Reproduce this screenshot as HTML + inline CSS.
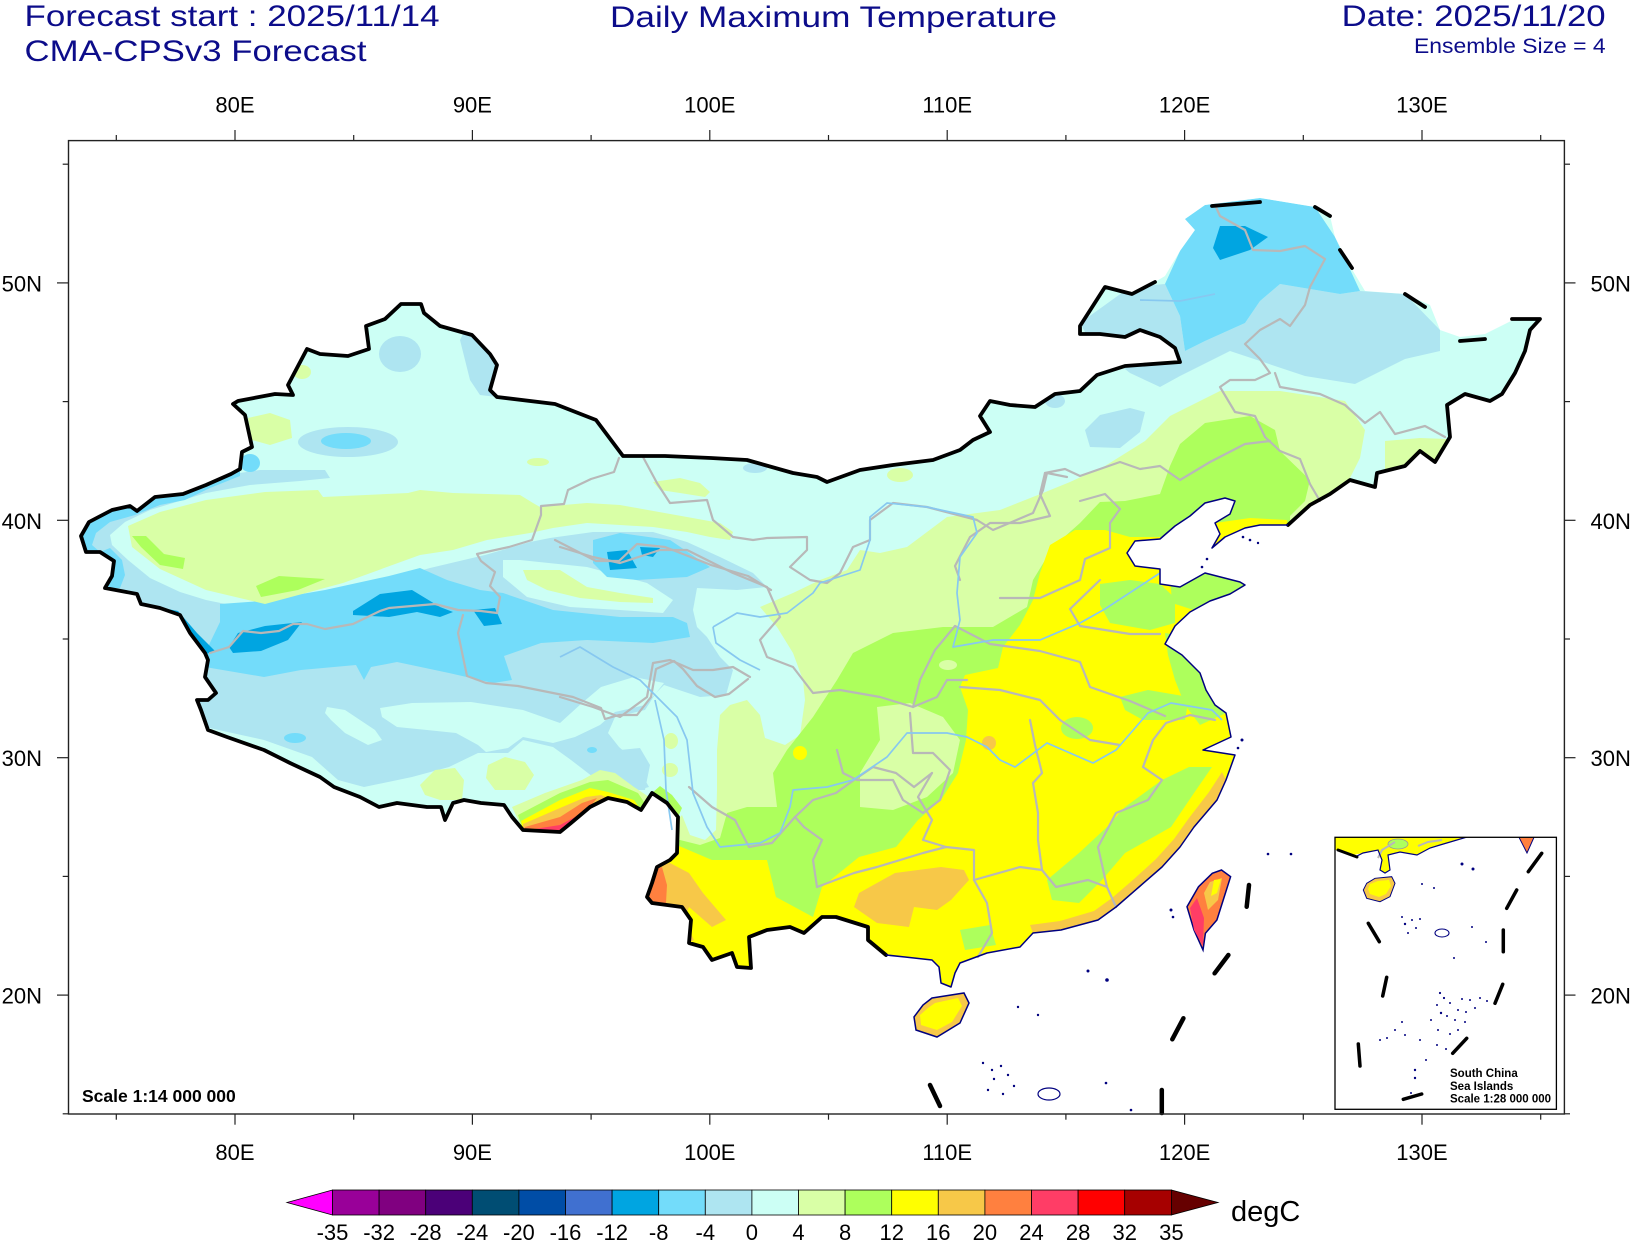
<!DOCTYPE html>
<html><head><meta charset="utf-8"><style>html,body{margin:0;padding:0;background:#fff}svg{display:block}</style></head>
<body>
<svg width="1632" height="1241" viewBox="0 0 1632 1241" xmlns="http://www.w3.org/2000/svg" font-family="'Liberation Sans', Arial, sans-serif">
<defs>
<clipPath id="land"><path d="M81,536 L89,522 112,510 130,506 137,511 155,497 183,494 206,485 231,474 240,469 242,452 252,447 245,415 233,404 238,401 275,394 293,395 288,385 307,349 320,354 348,356 369,349 366,326 385,319 401,304 421,304 424,313 440,326 472,335 490,354 497,365 490,390 497,397 555,404 596,420 623,456 665,456 711,458 747,460 793,473 817,477 827,482 860,470 893,465 933,460 960,450 973,440 990,432 980,416 990,401 1010,405 1035,407 1055,394 1080,391 1097,375 1125,366 1180,362 1175,348 1160,337 1140,330 1125,337 1100,334 1080,334 1080,326 1105,287 1132,294 1155,282 1165,276 1180,251 1195,230 1185,219 1205,205 1260,198 1315,207 1330,216 1335,237 1350,266 1365,291 1405,294 1430,305 1440,330 1460,337 1485,334 1515,319 1540,319 1530,330 1525,351 1515,373 1502,394 1490,401 1465,394 1447,405 1450,437 1435,462 1420,451 1405,466 1377,473 1375,487 1350,480 1330,494 1310,505 1288,525 1260,525 1245,528 1225,537 1212,548 1220,534 1215,523 1230,514 1235,501 1225,498 1205,503 1190,516 1175,526 1160,539 1135,541 1127,553 1135,566 1160,569 1160,584 1180,587 1205,573 1240,582 1245,585 1230,594 1210,601 1190,612 1175,626 1165,644 1182,655 1200,673 1206,690 1215,705 1226,713 1231,737 1203,750 1235,755 1226,780 1217,800 1194,827 1180,847 1162,867 1139,887 1116,907 1098,920 1061,930 1033,933 1020,947 987,953 960,963 955,973 951,987 941,983 939,967 932,960 905,957 886,955 868,940 868,927 836,917 822,917 804,933 790,927 767,930 749,937 751,968 737,967 732,953 712,960 703,947 689,943 691,920 682,907 652,903 647,897 652,883 657,867 670,860 677,853 678,817 667,803 652,793 641,810 627,802 608,798 590,807 571,823 560,832 523,830 512,817 504,805 481,803 464,800 453,803 445,820 441,807 427,807 397,803 379,807 360,797 334,787 320,777 290,763 264,750 227,737 208,730 201,710 197,700 208,700 216,693 205,677 208,660 205,653 190,633 180,615 160,608 141,604 137,594 105,588 112,576 114,561 100,552 86,552 Z"/></clipPath>
<clipPath id="ins"><rect x="1335" y="837.3" width="221.4" height="272"/></clipPath>
</defs>

<!-- Titles -->
<g fill="#0c0c8a">
<text x="24.5" y="26" font-size="30" textLength="415" lengthAdjust="spacingAndGlyphs">Forecast start : 2025/11/14</text>
<text x="24.5" y="61" font-size="30" textLength="342" lengthAdjust="spacingAndGlyphs">CMA-CPSv3 Forecast</text>
<text x="610" y="27" font-size="30" textLength="447" lengthAdjust="spacingAndGlyphs">Daily Maximum Temperature</text>
<text x="1341.6" y="26" font-size="30" textLength="264" lengthAdjust="spacingAndGlyphs">Date: 2025/11/20</text>
<text x="1414" y="53" font-size="21" textLength="191.6" lengthAdjust="spacingAndGlyphs">Ensemble Size = 4</text>
</g>

<!-- Map fill -->
<g clip-path="url(#land)">
<rect x="60" y="140" width="1510" height="980" fill="#ccfff5"/>
<!-- west cold: big light blue -->
<polygon fill="#aee5f1" points="82,530 100,515 130,503 160,495 206,478 260,470 325,470 330,478 300,481 250,485 206,493 150,510 125,522 110,535 112,545 128,560 150,578 180,592 206,600 265,612 345,592 430,568 485,555 530,542 550,538 593,532 653,532 687,542 720,557 753,573 767,587 737,590 697,588 693,610 697,627 707,637 720,657 733,670 726,695 700,697 664,685 656,693 645,710 615,717 608,733 619,747 634,760 649,787 627,793 597,780 571,760 553,747 523,740 508,753 478,753 449,767 412,777 364,787 338,780 312,757 264,740 205,727 201,710 197,700 208,700 216,693 205,677 208,660 205,653 190,633 180,615 160,608 141,604 137,594 105,588 112,576 114,561 100,552 86,552"/>
<polygon fill="#aee5f1" points="620,750 640,748 650,765 645,790 625,790 618,770"/>
<!-- west edge sky band -->
<polygon fill="#73dcfa" points="81,536 89,522 112,510 130,506 137,511 155,497 183,494 206,485 231,474 240,469 240,476 210,488 185,500 160,505 135,515 110,522 96,533 92,545 100,552 86,552"/>
<polygon fill="#73dcfa" points="100,552 114,561 112,576 105,588 120,588 125,575 122,560 110,548"/>
<!-- Tibet pale patches -->
<polygon fill="#ccfff5" points="327,707 345,710 375,730 382,740 368,745 345,733 331,720 325,713"/>
<polygon fill="#ccfff5" points="380,708 412,703 471,702 523,710 560,723 582,703 601,687 634,677 664,683 656,693 645,705 615,712 600,725 575,737 553,743 523,737 508,748 486,752 478,745 456,733 427,730 397,727 382,717"/>
<ellipse cx="295" cy="738" rx="11" ry="5" fill="#73dcfa"/>
<ellipse cx="592" cy="750" rx="5" ry="3" fill="#73dcfa"/>
<polygon fill="#d9ffa6" points="420,785 435,770 455,768 464,780 462,800 440,800 425,795"/>
<polygon fill="#d9ffa6" points="488,765 505,757 525,762 534,775 525,790 495,790 486,778"/>
<ellipse cx="671" cy="741" rx="7" ry="8" fill="#d9ffa6"/>
<ellipse cx="670" cy="770" rx="8" ry="7" fill="#d9ffa6"/>
<!-- Qaidam -->
<polygon fill="#ccfff5" points="503,560 520,560 587,567 647,583 673,600 663,613 620,610 570,607 527,597 503,577"/>
<polygon fill="#d9ffa6" points="523,570 560,570 587,587 620,593 653,598 653,603 620,602 580,598 547,590 527,580"/>
<!-- Kunlun sky blue -->
<polygon fill="#73dcfa" points="206,651 220,622 220,604 261,601 325,590 389,576 420,568 447,580 480,590 503,593 553,610 620,617 673,617 687,623 690,637 653,643 587,640 541,643 504,656 512,680 493,683 449,673 397,662 371,667 364,680 356,665 301,670 264,677 205,667"/>
<polygon fill="#00a5e1" points="353,611 380,594 412,590 440,607 453,612 440,617 417,612 389,617 353,615"/>
<polygon fill="#00a5e1" points="229,647 238,633 265,626 302,622 288,640 261,651 233,653"/>
<polygon fill="#00a5e1" points="473,610 495,608 502,624 484,626"/>
<polygon fill="#00a5e1" points="141,604 178,611 197,633 215,651 206,654 187,640 160,624 141,611"/>
<polygon fill="#4070d0" points="141,605 174,611 185,626 178,628 155,620 141,613"/>
<!-- Qilian -->
<polygon fill="#73dcfa" points="593,540 620,533 670,540 710,567 687,577 637,580 607,577 593,563"/>
<polygon fill="#00a5e1" points="607,552 627,550 637,568 610,570"/>
<polygon fill="#00a5e1" points="640,547 660,548 653,557 642,555"/>
<!-- Tarim -->
<polygon fill="#d9ffa6" points="128,526 160,512 206,500 265,492 318,490 323,497 408,493 420,490 453,493 520,495 533,503 540,507 587,503 620,505 687,517 720,523 733,532 730,540 710,537 687,532 653,527 620,525 587,523 553,528 530,533 487,540 453,550 420,555 343,583 265,604 206,590 160,569 132,547"/>
<polygon fill="#d9ffa6" points="653,482 680,478 700,483 710,492 705,497 680,493 660,490"/>
<polygon fill="#adff5c" points="132,536 146,536 164,554 185,558 183,569 160,565 141,547"/>
<polygon fill="#adff5c" points="256,586 279,576 325,579 298,590 261,597"/>
<!-- north Xinjiang -->
<ellipse cx="400" cy="354" rx="21" ry="18" fill="#aee5f1"/>
<polygon fill="#aee5f1" points="465,330 475,338 490,354 497,365 490,390 497,397 480,395 470,380 465,360 460,340"/>
<ellipse cx="348" cy="442" rx="50" ry="15" fill="#aee5f1"/>
<ellipse cx="346" cy="441" rx="25" ry="8" fill="#73dcfa"/>
<polygon fill="#d9ffa6" points="248,418 270,413 290,420 292,438 270,445 252,440"/>
<ellipse cx="302" cy="372" rx="9" ry="7" fill="#d9ffa6"/>
<ellipse cx="250" cy="463" rx="10" ry="9" fill="#73dcfa"/>
<ellipse cx="538" cy="462" rx="11" ry="4" fill="#d9ffa6"/>
<ellipse cx="755" cy="468" rx="12" ry="5" fill="#aee5f1"/>
<ellipse cx="900" cy="475" rx="13" ry="7" fill="#d9ffa6"/>
<polygon fill="#aee5f1" points="1085,430 1100,415 1130,408 1145,412 1140,432 1120,448 1090,447"/>
<ellipse cx="1055" cy="401" rx="10" ry="7" fill="#aee5f1"/>
<!-- warm zones -->
<polygon fill="#d9ffa6" points="1330,494 1350,478 1360,458 1365,430 1345,401 1280,391 1220,391 1170,416 1145,441 1105,466 1070,482 1043,493 1000,510 947,517 907,547 880,553 860,550 847,570 820,580 793,593 760,607 777,627 793,653 803,680 805,700 800,735 785,745 765,738 760,715 747,700 730,705 720,715 717,750 717,790 716,830 705,840 690,835 682,815 660,840 640,850 640,1000 1600,1000 1600,494"/>
<polygon fill="#d9ffa6" points="1385,441 1420,438 1447,439 1450,462 1435,462 1420,451 1405,466 1385,470"/>
<polygon fill="#adff5c" points="1160,494 1170,466 1180,444 1205,423 1250,416 1275,430 1280,451 1310,480 1305,501 1290,516 1290,540 1600,540 1600,1000 640,1000 640,850 680,840 700,845 720,838 727,813 747,807 777,807 773,773 787,750 813,717 837,680 853,653 893,633 943,627 993,627 1027,607 1033,580 1053,547 1080,523 1100,502 1125,501"/>
<polygon fill="#adff5c" points="652,793 660,786 672,795 682,808 678,817 667,803"/>
<polygon fill="#d9ffa6" points="877,707 910,703 943,717 960,740 953,773 927,797 893,810 860,807 860,773 880,740"/>
<ellipse cx="948" cy="665" rx="9" ry="5" fill="#d9ffa6"/>
<polygon fill="#ffff00" points="1130,537 1105,530 1075,530 1050,545 1040,573 1033,600 1020,625 1003,647 998,668 965,675 960,687 968,710 966,740 958,773 941,800 918,820 896,847 859,857 822,887 813,917 776,897 767,860 712,860 672,843 640,850 640,1000 1600,1000 1600,537"/>
<ellipse cx="800" cy="753" rx="7" ry="7" fill="#ffff00"/>
<polygon fill="#ffff00" points="1215,523 1250,518 1287,520 1288,526 1260,526 1245,529 1225,538 1213,548 1211,538"/>
<polygon fill="#adff5c" points="1100,584 1130,580 1160,584 1175,598 1175,623 1150,630 1110,623 1100,605"/>
<polygon fill="#adff5c" points="1170,575 1200,571 1245,578 1250,595 1200,612 1172,603"/>
<polygon fill="#adff5c" points="1165,633 1185,636 1205,650 1215,680 1226,713 1200,725 1185,705 1175,680 1168,655"/>
<polygon fill="#adff5c" points="1120,697 1148,690 1189,697 1185,720 1143,720 1125,710"/>
<polygon fill="#adff5c" points="1212,767 1194,793 1171,827 1125,853 1102,880 1079,903 1052,900 1047,880 1079,853 1107,827 1125,807 1162,780 1189,767"/>
<ellipse cx="1077" cy="728" rx="16" ry="11" fill="#adff5c"/>
<polygon fill="#adff5c" points="960,930 990,925 996,945 965,950"/>
<!-- orange -->
<polygon fill="#f7c848" points="859,893 895,873 941,867 964,870 969,880 951,900 937,910 914,907 909,927 877,923 854,907"/>
<polygon fill="#f7c848" points="654,867 670,863 689,873 703,893 726,920 712,927 689,907 684,920 694,940 689,943 680,920 666,903 652,903 650,883"/>
<polygon fill="#ff803f" points="652,870 662,867 667,885 666,903 652,903 648,895 652,883"/>
<polygon fill="#f7c848" points="1226,780 1217,800 1194,827 1180,847 1162,867 1139,887 1116,907 1098,920 1061,930 1033,933 1030,925 1060,921 1094,911 1112,898 1134,879 1156,859 1174,839 1189,818 1209,792 1222,772"/>
<ellipse cx="989" cy="743" rx="7" ry="7" fill="#f7c848"/>
<!-- Himalaya warm strip -->
<polygon fill="#d9ffa6" points="512,807 545,793 582,780 600,770 615,773 634,787 649,797 652,793 641,810 627,802 608,798 590,807 571,823 560,832 523,830"/>
<polygon fill="#adff5c" points="518,815 560,793 590,782 608,780 638,793 646,805 641,810 627,802 608,798 590,807 571,823 560,832 523,830"/>
<polygon fill="#ffff00" points="521,821 560,800 590,788 608,792 634,800 641,810 627,802 608,798 590,807 571,823 560,832 523,830"/>
<polygon fill="#f7c848" points="523,824 560,808 586,797 601,795 608,798 590,807 571,823 560,832 523,830"/>
<polygon fill="#ff803f" points="525,827 560,817 582,803 597,798 590,807 571,823 560,832 523,830"/>
<polygon fill="#ff3d66" points="528,830 560,825 575,817 590,807 571,823 560,832"/>
<!-- NE cold -->
<polygon fill="#aee5f1" points="1080,323 1130,287 1165,284 1180,316 1185,351 1205,341 1245,323 1260,301 1280,284 1340,294 1360,291 1405,294 1440,330 1440,351 1405,359 1355,384 1305,376 1230,351 1180,376 1160,387 1130,373 1090,341"/>
<polygon fill="#73dcfa" points="1185,219 1205,205 1260,198 1315,207 1335,237 1360,291 1340,294 1280,284 1260,301 1245,323 1205,341 1185,351 1180,316 1165,284 1180,251"/>
<polygon fill="#00a5e1" points="1220,226 1245,226 1268,237 1250,250 1220,260 1213,248"/>
</g>

<!-- province lines -->
<g fill="none" stroke="#b8b8b8" stroke-width="2.2" stroke-linejoin="round" stroke-linecap="round">
<polyline points="210,653 229,647 243,631 261,633 279,631 293,624 307,624 325,629 353,624 380,611 389,608 435,604 458,610 481,611 497,613"/>
<polyline points="497,613 500,597 490,586 495,572 481,561 477,554 509,547 532,540 541,515 541,506 564,504 568,490 591,479 614,472 619,458"/>
<polyline points="463,615 458,633 467,676 486,683 518,686 573,697 601,708 605,719 619,715 637,715 651,697 656,669 674,661 683,669 697,686 715,697 729,694 748,679"/>
<polyline points="555,540 596,561 619,561 637,544 665,547 711,565 748,576 771,590"/>
<polyline points="643,457 657,483 670,503 707,500 713,520 733,537 753,540 767,538 807,537 807,550 790,567 810,580 827,583 840,573 853,547 870,540 870,520 893,503 927,507 977,520 993,530 1033,513 1043,490 1047,473 1067,477"/>
<polyline points="560,547 593,557 620,563 660,550 687,550 733,573 767,587 780,617 760,640 767,657 793,667 813,693 840,690 880,697 913,707 937,697 947,680 967,680"/>
<polyline points="560,697 593,707 620,717 647,697 653,663 670,660 693,670 713,670 733,667 750,677"/>
<polyline points="837,750 843,773 857,780 893,780 903,800 923,813 940,800 950,770 933,753 913,753 910,713"/>
<polyline points="974,880 987,903 992,933 978,957"/>
<polyline points="817,887 854,873 877,867 923,853 946,847 974,850 974,880"/>
<polyline points="974,880 1020,867 1042,870 1056,887 1088,880 1107,887 1116,907"/>
<polyline points="1042,870 1038,840 1038,813 1033,783 1042,773 1035,745 1030,720"/>
<polyline points="1107,887 1098,847 1116,813 1148,800 1162,780 1143,767 1153,740 1166,723 1190,715 1215,720"/>
<polyline points="932,773 918,797 932,820 923,840 946,847"/>
<polyline points="817,887 813,860 822,840 804,827 795,817 813,800 836,793 854,780 873,767 896,773 914,787 932,773"/>
<polyline points="689,787 712,807 735,820 749,847 772,843 795,817"/>
<polyline points="1215,205 1220,216 1245,230 1253,250 1280,251 1305,246 1325,259 1310,287 1305,305 1290,326 1280,319 1260,330 1245,344 1260,359 1270,373 1255,380 1230,380 1220,387 1235,412 1255,416 1265,437 1280,451 1300,459 1310,484 1320,501"/>
<polyline points="1275,373 1280,387 1320,394 1345,405 1365,423 1380,412 1395,434 1425,426 1445,437"/>
<polyline points="1045,473 1065,469 1080,476 1120,462 1140,469 1160,466 1180,480 1210,462 1245,444 1270,441"/>
<polyline points="1045,473 1040,494 1050,516 1020,523 990,523 970,537 955,566 960,580"/>
<polyline points="1080,501 1105,494 1120,509 1110,523 1110,548 1085,559 1080,580 1040,598 1000,598"/>
<polyline points="1100,580 1070,609 1080,626 1130,634 1160,634"/>
<polyline points="955,626 990,644 1040,651 1080,662 1090,687 1130,701 1165,716"/>
<polyline points="960,687 1000,690 1040,700 1060,720 1090,740 1120,745"/>
<polyline points="913,707 920,680 935,650 955,626"/>
</g>
<!-- rivers -->
<g fill="none" stroke="#87c8f0" stroke-width="1.7" stroke-linejoin="round">
<polyline points="713,627 737,613 760,617 787,613 813,593 820,583 860,570 870,540 870,517 887,503 927,507 973,517 977,533 960,557 957,593 960,620 953,647 993,640 1040,640 1080,623 1105,609 1160,573"/>
<polyline points="713,627 716,643 740,660 760,670"/>
<polyline points="560,657 580,647 613,667 640,680 660,700 677,717 687,740 693,793 707,827 720,847 760,843 780,833 790,807 793,790 827,787 853,780 887,757 907,733 947,733 967,737 987,747 1000,760 1015,767 1047,743 1093,763 1116,750 1148,713 1171,703 1212,710 1222,720"/>
<polyline points="1140,300 1180,301 1215,294"/>
<polyline points="655,700 664,740 666,790 672,830"/>
</g>

<!-- borders -->
<path fill="none" stroke="#000" stroke-width="3.8" stroke-linejoin="round" stroke-linecap="round" d="M886,955 L868,940 868,927 836,917 822,917 804,933 790,927 767,930 749,937 751,968 737,967 732,953 712,960 703,947 689,943 691,920 682,907 652,903 647,897 652,883 657,867 670,860 677,853 678,817 667,803 652,793 641,810 627,802 608,798 590,807 571,823 560,832 523,830 512,817 504,805 481,803 464,800 453,803 445,820 441,807 427,807 397,803 379,807 360,797 334,787 320,777 290,763 264,750 227,737 208,730 201,710 197,700 208,700 216,693 205,677 208,660 205,653 190,633 180,615 160,608 141,604 137,594 105,588 112,576 114,561 100,552 86,552 81,536 89,522 112,510 130,506 137,511 155,497 183,494 206,485 231,474 240,469 242,452 252,447 245,415 233,404 238,401 275,394 293,395 288,385 307,349 320,354 348,356 369,349 366,326 385,319 401,304 421,304 424,313 440,326 472,335 490,354 497,365 490,390 497,397 555,404 596,420 623,456 665,456 711,458 747,460 793,473 817,477 827,482 860,470 893,465 933,460 960,450 973,440 990,432 980,416 990,401 1010,405 1035,407 1055,394 1080,391 1097,375 1125,366 1180,362 1175,348 1160,337 1140,330 1125,337 1100,334 1080,334 1080,326 1105,287 1132,294 1155,282"/>
<path fill="none" stroke="#000" stroke-width="3.8" stroke-linejoin="round" stroke-linecap="round" d="M1512,319 L1540,319 1530,330 1525,351 1515,373 1502,394 1490,401 1465,394 1447,405 1450,437 1435,462 1420,451 1405,466 1377,473 1375,487 1350,480 1330,494 1310,505 1288,525"/>
<g stroke="#000" stroke-width="3.8" stroke-linecap="round">
<line x1="1212" y1="206" x2="1260" y2="202"/>
<line x1="1315" y1="207" x2="1330" y2="216"/>
<line x1="1340" y1="250" x2="1352" y2="268"/>
<line x1="1405" y1="294" x2="1425" y2="307"/>
<line x1="1460" y1="341" x2="1485" y2="339"/>
</g>
<path fill="none" stroke="#00007f" stroke-width="1.5" stroke-linejoin="round" d="M1288,525 L1260,525 1245,528 1225,537 1212,548 1220,534 1215,523 1230,514 1235,501 1225,498 1205,503 1190,516 1175,526 1160,539 1135,541 1127,553 1135,566 1160,569 1160,584 1180,587 1205,573 1240,582 1245,585 1230,594 1210,601 1190,612 1175,626 1165,644 1182,655 1200,673 1206,690 1215,705 1226,713 1231,737 1203,750 1235,755 1226,780 1217,800 1194,827 1180,847 1162,867 1139,887 1116,907 1098,920 1061,930 1033,933 1020,947 987,953 960,963 955,973 951,987 941,983 939,967 932,960 905,957 886,955"/>

<!-- Hainan -->
<polygon points="932,998 964,993 969,1003 960,1023 937,1037 916,1030 914,1017 923,1005" fill="#f7c848" stroke="#00007f" stroke-width="1.5"/>
<polygon points="935,1003 958,998 962,1006 952,1022 937,1030 921,1025 920,1015 928,1008" fill="#ffff00"/>
<!-- Taiwan -->
<polygon points="1221.5,870 1230.6,876.7 1216.9,920 1205.4,933.3 1203,950 1194,930 1187,906.7 1198.5,886.7 1212.3,873.3" fill="#ff803f" stroke="#00007f" stroke-width="1.5"/>
<polygon points="1194,930 1190,908 1197,898 1204,918 1203,946" fill="#ff3d66"/>
<polygon points="1210,882 1222,878 1218,900 1208,910 1204,893" fill="#f7c848"/>
<polygon points="1214,880 1221,879 1217,893 1211,896" fill="#ffff00"/>

<!-- nine-dash line main -->
<g stroke="#000" stroke-width="4.5" stroke-linecap="round">
<line x1="1249" y1="885" x2="1246.7" y2="906.7"/>
<line x1="1228.4" y1="955" x2="1214.6" y2="973.3"/>
<line x1="1183.4" y1="1018.3" x2="1172.3" y2="1039.3"/>
<line x1="1161.8" y1="1090" x2="1161.8" y2="1113"/>
<line x1="930" y1="1085" x2="940" y2="1106"/>
</g>
<!-- islands -->
<g fill="#00007f">
<circle cx="1268" cy="854" r="1.3"/><circle cx="1291" cy="854" r="1.3"/>
<circle cx="1171" cy="910" r="1.5"/><circle cx="1173" cy="917" r="1.3"/>
<circle cx="1088" cy="971" r="1.5"/><circle cx="1107" cy="980" r="1.8"/>
<circle cx="1018" cy="1007" r="1.2"/><circle cx="1038" cy="1015" r="1.2"/>
<circle cx="1106" cy="1083" r="1.3"/><circle cx="1131" cy="1110" r="1.3"/>
<circle cx="1242" cy="740" r="1.5"/><circle cx="1238" cy="748" r="1.3"/>
<circle cx="1202" cy="567" r="1.3"/><circle cx="1207" cy="559" r="1.3"/>
<circle cx="1243" cy="537" r="1.3"/><circle cx="1250" cy="540" r="1.3"/><circle cx="1258" cy="543" r="1.2"/>
<circle cx="983" cy="1063" r="1.2"/><circle cx="992" cy="1070" r="1.2"/><circle cx="1001" cy="1066" r="1.2"/><circle cx="994" cy="1079" r="1.2"/><circle cx="1008" cy="1075" r="1.2"/><circle cx="988" cy="1090" r="1.2"/><circle cx="1003" cy="1094" r="1.2"/><circle cx="1014" cy="1086" r="1.2"/>
</g>
<ellipse cx="1049" cy="1094" rx="11" ry="6" fill="none" stroke="#00007f" stroke-width="1.2"/>

<!-- frame -->
<rect x="68.5" y="140.6" width="1495.9" height="973.4" fill="none" stroke="#222" stroke-width="1.4"/>
<!-- ticks -->
<g stroke="#222" stroke-width="1.2">
<line x1="235" y1="130" x2="235" y2="140.6"/><line x1="472.4" y1="130" x2="472.4" y2="140.6"/><line x1="709.8" y1="130" x2="709.8" y2="140.6"/><line x1="947.2" y1="130" x2="947.2" y2="140.6"/><line x1="1184.6" y1="130" x2="1184.6" y2="140.6"/><line x1="1422" y1="130" x2="1422" y2="140.6"/>
<line x1="116.3" y1="135" x2="116.3" y2="140.6"/><line x1="353.7" y1="135" x2="353.7" y2="140.6"/><line x1="591.1" y1="135" x2="591.1" y2="140.6"/><line x1="828.5" y1="135" x2="828.5" y2="140.6"/><line x1="1065.9" y1="135" x2="1065.9" y2="140.6"/><line x1="1303.3" y1="135" x2="1303.3" y2="140.6"/><line x1="1540.7" y1="135" x2="1540.7" y2="140.6"/>
<line x1="235" y1="1114" x2="235" y2="1124.7"/><line x1="472.4" y1="1114" x2="472.4" y2="1124.7"/><line x1="709.8" y1="1114" x2="709.8" y2="1124.7"/><line x1="947.2" y1="1114" x2="947.2" y2="1124.7"/><line x1="1184.6" y1="1114" x2="1184.6" y2="1124.7"/><line x1="1422" y1="1114" x2="1422" y2="1124.7"/>
<line x1="116.3" y1="1114" x2="116.3" y2="1119.7"/><line x1="353.7" y1="1114" x2="353.7" y2="1119.7"/><line x1="591.1" y1="1114" x2="591.1" y2="1119.7"/><line x1="828.5" y1="1114" x2="828.5" y2="1119.7"/><line x1="1065.9" y1="1114" x2="1065.9" y2="1119.7"/><line x1="1303.3" y1="1114" x2="1303.3" y2="1119.7"/><line x1="1540.7" y1="1114" x2="1540.7" y2="1119.7"/>
<line x1="57" y1="282.9" x2="68.5" y2="282.9"/><line x1="57" y1="520.3" x2="68.5" y2="520.3"/><line x1="57" y1="757.7" x2="68.5" y2="757.7"/><line x1="57" y1="995.1" x2="68.5" y2="995.1"/>
<line x1="62.7" y1="164.2" x2="68.5" y2="164.2"/><line x1="62.7" y1="401.6" x2="68.5" y2="401.6"/><line x1="62.7" y1="639" x2="68.5" y2="639"/><line x1="62.7" y1="876.4" x2="68.5" y2="876.4"/><line x1="62.7" y1="1113.8" x2="68.5" y2="1113.8"/>
<line x1="1564.4" y1="282.9" x2="1575.5" y2="282.9"/><line x1="1564.4" y1="520.3" x2="1575.5" y2="520.3"/><line x1="1564.4" y1="757.7" x2="1575.5" y2="757.7"/><line x1="1564.4" y1="995.1" x2="1575.5" y2="995.1"/>
<line x1="1564.4" y1="164.2" x2="1570" y2="164.2"/><line x1="1564.4" y1="401.6" x2="1570" y2="401.6"/><line x1="1564.4" y1="639" x2="1570" y2="639"/><line x1="1564.4" y1="876.4" x2="1570" y2="876.4"/><line x1="1564.4" y1="1113.8" x2="1570" y2="1113.8"/>
</g>
<!-- axis labels -->
<g font-size="22" fill="#000" text-anchor="middle">
<text x="235" y="112.7">80E</text><text x="472.4" y="112.7">90E</text><text x="709.8" y="112.7">100E</text><text x="947.2" y="112.7">110E</text><text x="1184.6" y="112.7">120E</text><text x="1422" y="112.7">130E</text>
<text x="235" y="1160">80E</text><text x="472.4" y="1160">90E</text><text x="709.8" y="1160">100E</text><text x="947.2" y="1160">110E</text><text x="1184.6" y="1160">120E</text><text x="1422" y="1160">130E</text>
</g>
<g font-size="22" fill="#000" text-anchor="end">
<text x="42" y="291.5">50N</text><text x="42" y="528.8">40N</text><text x="42" y="766.2">30N</text><text x="42" y="1003.6">20N</text>
</g>
<g font-size="22" fill="#000">
<text x="1590.5" y="291.5">50N</text><text x="1590.5" y="528.8">40N</text><text x="1590.5" y="766.2">30N</text><text x="1590.5" y="1003.6">20N</text>
</g>
<text x="82" y="1102" font-size="17.5" font-weight="bold" fill="#000">Scale 1:14 000 000</text>

<!-- Inset -->
<rect x="1335" y="837.3" width="221.4" height="272" fill="#fff"/>
<g clip-path="url(#ins)">
<polygon points="1335,837 1467,837 1440,845 1430,848 1417,855 1400,852 1388,855 1390,870 1385,873 1380,870 1382,860 1378,850 1363,853 1353,855 1338,850 1335,850" fill="#ffff00"/>
<ellipse cx="1398" cy="844" rx="10" ry="5" fill="#adff5c" stroke="#999" stroke-width="0.8"/>
<polyline points="1378,858 1382,850 1395,842" fill="none" stroke="#b8b8b8" stroke-width="2"/>
<polyline points="1418,846 1428,842 1442,840" fill="none" stroke="#b8b8b8" stroke-width="2"/>
<polyline points="1467,837 1440,845 1430,848 1417,855 1400,852 1388,855 1390,870 1385,873 1380,870 1382,860 1378,850 1363,853 1357,856" fill="none" stroke="#00007f" stroke-width="1.2"/>
<polyline points="1338,850 1357,857" fill="none" stroke="#000" stroke-width="3" stroke-linecap="round"/>
<polygon points="1366.7,883.3 1375,878.3 1391.7,876.7 1395,883.3 1390,896.7 1380,901.7 1366.7,898.3 1363.3,890" fill="#f7c848" stroke="#00007f" stroke-width="1"/>
<polygon points="1370,884 1378,881 1389,880 1391,886 1386,894 1379,897 1370,894 1368,889" fill="#ffff00"/>
<polygon points="1519,837.3 1534,837.3 1527,853" fill="#ff803f" stroke="#00007f" stroke-width="1"/>
<g stroke="#000" stroke-width="3.5" stroke-linecap="round">
<line x1="1528.3" y1="871.7" x2="1541.7" y2="853.3"/>
<line x1="1506.7" y1="908.3" x2="1516.7" y2="890"/>
<line x1="1503.3" y1="930" x2="1503.3" y2="951.7"/>
<line x1="1495" y1="1003.3" x2="1502.7" y2="984.3"/>
<line x1="1452.7" y1="1053.3" x2="1466.7" y2="1038.3"/>
<line x1="1403.3" y1="1099.3" x2="1421.7" y2="1094"/>
<line x1="1358.3" y1="1044" x2="1360" y2="1066"/>
<line x1="1382.7" y1="996" x2="1386.7" y2="977.3"/>
<line x1="1368.3" y1="923.3" x2="1379.3" y2="941.7"/>
</g>
<g fill="#00007f">
<circle cx="1462" cy="864" r="1.5"/><circle cx="1473" cy="869" r="1.5"/><circle cx="1422" cy="884" r="1"/><circle cx="1434" cy="888" r="1"/>
<circle cx="1402" cy="917" r="1"/><circle cx="1405" cy="924" r="1.2"/><circle cx="1412" cy="920" r="1"/><circle cx="1416" cy="928" r="1"/><circle cx="1420" cy="919" r="1"/><circle cx="1408" cy="933" r="1"/>
<circle cx="1472" cy="927" r="1"/><circle cx="1486" cy="942" r="1"/><circle cx="1454" cy="958" r="1"/>
<circle cx="1440" cy="993" r="1.1"/><circle cx="1444" cy="998" r="1.1"/><circle cx="1437" cy="1005" r="1"/><circle cx="1450" cy="1003" r="1"/><circle cx="1462" cy="999" r="1"/><circle cx="1470" cy="1000" r="1"/><circle cx="1480" cy="998" r="1"/><circle cx="1487" cy="1001" r="1"/><circle cx="1458" cy="1010" r="1"/><circle cx="1466" cy="1012" r="1"/><circle cx="1475" cy="1008" r="1"/>
<circle cx="1441" cy="1013" r="1.2"/><circle cx="1447" cy="1016" r="1"/><circle cx="1455" cy="1020" r="1"/><circle cx="1465" cy="1022" r="1"/><circle cx="1431" cy="1020" r="1"/><circle cx="1438" cy="1030" r="1"/><circle cx="1450" cy="1034" r="1"/><circle cx="1458" cy="1030" r="1"/><circle cx="1402" cy="1022" r="1"/><circle cx="1395" cy="1030" r="1"/><circle cx="1405" cy="1035" r="1"/>
<circle cx="1387" cy="1038" r="1"/><circle cx="1380" cy="1040" r="1"/><circle cx="1420" cy="1040" r="1"/><circle cx="1437" cy="1045" r="1"/><circle cx="1446" cy="1049" r="1"/><circle cx="1426" cy="1060" r="1"/><circle cx="1415" cy="1070" r="1.2"/><circle cx="1415" cy="1078" r="1.2"/><circle cx="1411" cy="1093" r="1"/>
</g>
<ellipse cx="1442" cy="933" rx="7" ry="4" fill="none" stroke="#00007f" stroke-width="1.1"/>
</g>
<rect x="1335" y="837.3" width="221.4" height="272" fill="none" stroke="#000" stroke-width="1.3"/>
<g font-size="11.5" font-weight="bold" fill="#000">
<text x="1450" y="1077">South China</text>
<text x="1450" y="1090">Sea Islands</text>
<text x="1450" y="1102.7">Scale 1:28 000 000</text>
</g>

<!-- Colorbar -->
<g stroke="#000" stroke-width="0.8">
<polygon points="287,1202.5 332.5,1190 332.5,1215" fill="#ff00ff"/>
<rect x="332.5" y="1190" width="46.6" height="25" fill="#990099"/>
<rect x="379.1" y="1190" width="46.6" height="25" fill="#800080"/>
<rect x="425.7" y="1190" width="46.6" height="25" fill="#4b0078"/>
<rect x="472.3" y="1190" width="46.6" height="25" fill="#004d73"/>
<rect x="518.9" y="1190" width="46.6" height="25" fill="#004da6"/>
<rect x="565.5" y="1190" width="46.6" height="25" fill="#4070d0"/>
<rect x="612.1" y="1190" width="46.6" height="25" fill="#00a5e1"/>
<rect x="658.7" y="1190" width="46.6" height="25" fill="#73dcfa"/>
<rect x="705.3" y="1190" width="46.6" height="25" fill="#aee5f1"/>
<rect x="751.9" y="1190" width="46.6" height="25" fill="#ccfff5"/>
<rect x="798.5" y="1190" width="46.6" height="25" fill="#d9ffa6"/>
<rect x="845.1" y="1190" width="46.6" height="25" fill="#adff5c"/>
<rect x="891.7" y="1190" width="46.6" height="25" fill="#ffff00"/>
<rect x="938.3" y="1190" width="46.6" height="25" fill="#f7c848"/>
<rect x="984.9" y="1190" width="46.6" height="25" fill="#ff803f"/>
<rect x="1031.5" y="1190" width="46.6" height="25" fill="#ff3d66"/>
<rect x="1078.1" y="1190" width="46.6" height="25" fill="#ff0000"/>
<rect x="1124.7" y="1190" width="46.7" height="25" fill="#a60000"/>
<polygon points="1171.4,1190 1218,1202.5 1171.4,1215" fill="#660000"/>
</g>
<g font-size="22" fill="#000" text-anchor="middle">
<text x="332.5" y="1240">-35</text><text x="379.1" y="1240">-32</text><text x="425.7" y="1240">-28</text><text x="472.3" y="1240">-24</text><text x="518.9" y="1240">-20</text><text x="565.5" y="1240">-16</text><text x="612.1" y="1240">-12</text><text x="658.7" y="1240">-8</text><text x="705.3" y="1240">-4</text><text x="751.9" y="1240">0</text><text x="798.5" y="1240">4</text><text x="845.1" y="1240">8</text><text x="891.7" y="1240">12</text><text x="938.3" y="1240">16</text><text x="984.9" y="1240">20</text><text x="1031.5" y="1240">24</text><text x="1078.1" y="1240">28</text><text x="1124.7" y="1240">32</text><text x="1171.4" y="1240">35</text>
</g>
<text x="1231" y="1221" font-size="29" fill="#000">degC</text>
</svg>
</body></html>
